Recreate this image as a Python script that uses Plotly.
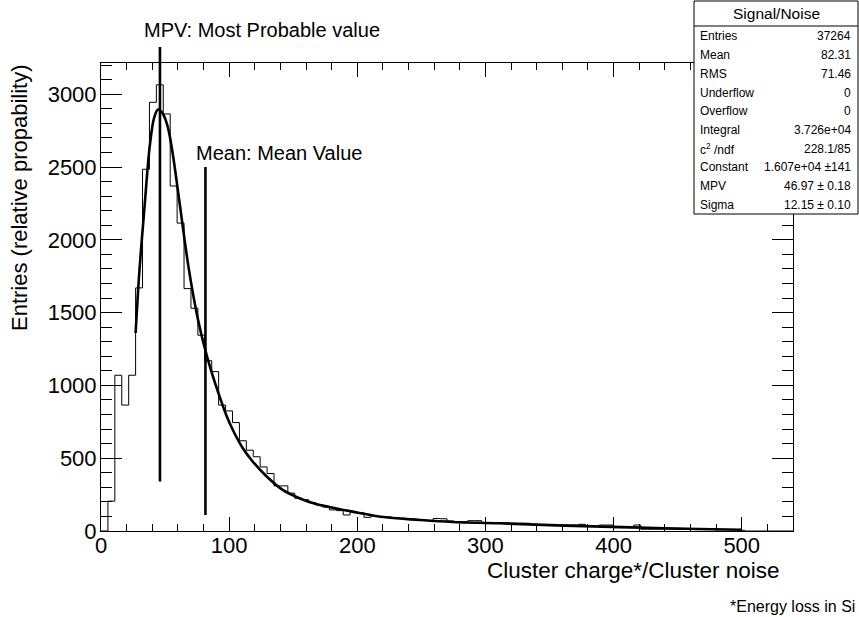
import plotly.graph_objects as go

# ---------------- data ----------------
BIN_WIDTH = 5.4
COUNTS = [0, 205, 1070, 865, 1070, 1670, 2485, 2945, 3065, 2865,
          2370, 2115, 1665, 1530, 1345, 1170, 1095, 865, 825, 745,
          620, 555, 510, 440, 395, 310, 310, 260, 225, 215,
          195, 180, 165, 145, 140, 110, 133, 125, 94, 105,
          100, 96, 92, 88, 84, 80, 76, 73, 86, 84,
          69, 64, 64, 71, 71, 57, 57, 57, 55, 53,
          53, 53, 46, 41, 41, 37, 37, 41, 41, 46,
          34, 34, 41, 41, 23, 23, 23, 41, 12, 12,
          12, 12, 12, 10, 10, 10, 10, 10, 10, 9,
          9, 9, 5, 0, 0, 0, 0, 0, 0, 0]

FIT_X = [27, 30, 34, 38, 41.5, 44.5, 48, 52, 56, 60, 64, 68, 72, 76, 80, 85,
         92.5, 97.7, 102.9, 110.7, 118.5, 128.9, 141.8, 154.8, 167.8, 178.2,
         196.3, 222.3, 248.3, 274.2, 310.6, 362.5, 414.4, 466.4, 500]
FIT_Y = [1360, 1790, 2230, 2640, 2840, 2895, 2870, 2780, 2590, 2340, 2080,
         1830, 1620, 1440, 1290, 1130, 925, 797, 694, 568, 476, 378, 282, 225,
         185, 165, 133, 94, 76, 62, 53, 37, 25, 14, 9]

MPV_LINE_X = 46.0
MPV_LINE_BOTTOM = 340
MEAN_LINE_X = 81.5
MEAN_LINE_Y = [110, 2500]

X_RANGE = [0, 540]
Y_RANGE = [0, 3215]

STATS_TITLE = "Signal/Noise"
STATS_LABELS = ["Entries", "Mean", "RMS", "Underflow", "Overflow", "Integral",
                "c<sup>2</sup> /ndf", "Constant", "MPV", "Sigma"]
STATS_VALUES = ["37264", "82.31", "71.46", "0", "0", "3.726e+04",
                "228.1/85", "1.607e+04 \u00b1141", "46.97 \u00b1 0.18", "12.15 \u00b1 0.10"]

FONT = "Liberation Sans, Arial, Helvetica, sans-serif"

FIG_W, FIG_H = 859, 617
PLOT_L, PLOT_R, PLOT_T, PLOT_B = 101, 793, 63, 531   # page pixels of plot area

# ---------------- figure ----------------
edges = [i * BIN_WIDTH for i in range(len(COUNTS) + 1)]
hist_y = COUNTS + [COUNTS[-1]]

fig = go.Figure()
fig.add_trace(go.Scatter(x=edges, y=hist_y, mode="lines", line_shape="hv",
                         line=dict(color="black", width=1), hoverinfo="skip",
                         showlegend=False))
fig.add_trace(go.Scatter(x=FIT_X, y=FIT_Y, mode="lines", line_shape="spline",
                         line=dict(color="black", width=2.6, smoothing=1.0),
                         hoverinfo="skip", showlegend=False))

W = float(PLOT_R - PLOT_L)
H = float(PLOT_B - PLOT_T)
def px(xp):
    return (xp - PLOT_L) / W
def py(yp):
    return (PLOT_B - yp) / H

# vertical marker lines
fig.add_shape(type="line", xref="x", yref="paper",
              x0=MPV_LINE_X, x1=MPV_LINE_X,
              y0=MPV_LINE_BOTTOM / Y_RANGE[1], y1=py(47),
              line=dict(color="black", width=2.6), layer="above")
fig.add_shape(type="line", xref="x", yref="y",
              x0=MEAN_LINE_X, x1=MEAN_LINE_X,
              y0=MEAN_LINE_Y[0], y1=MEAN_LINE_Y[1],
              line=dict(color="black", width=2.6), layer="above")

fig.add_annotation(text="MPV: Most Probable value", xref="x", yref="paper",
                   x=31.8, y=py(30), xanchor="left", yanchor="middle",
                   showarrow=False, font=dict(family=FONT, size=20, color="black"))
fig.add_annotation(text="Mean: Mean Value", xref="x", yref="y",
                   x=72.4, y=2600, xanchor="left", yanchor="middle",
                   showarrow=False, font=dict(family=FONT, size=20, color="black"))

# axis titles (ROOT style, right/top aligned)
fig.add_annotation(text="Cluster charge*/Cluster noise", xref="paper", yref="paper",
                   x=px(782), y=py(570), xanchor="right", yanchor="middle",
                   showarrow=False, font=dict(family=FONT, size=22.5, color="black"))
fig.add_annotation(text="Entries (relative propability)", xref="paper", yref="paper",
                   x=px(19), y=py(198), xanchor="center", yanchor="middle", textangle=-90,
                   showarrow=False, font=dict(family=FONT, size=22, color="black"))
fig.add_annotation(text="*Energy loss in Si", xref="paper", yref="paper",
                   x=px(857), y=py(606), xanchor="right", yanchor="middle",
                   showarrow=False, font=dict(family=FONT, size=16, color="black"))

# stats box
fig.add_shape(type="rect", xref="paper", yref="paper",
              x0=px(694), x1=px(858), y0=py(214), y1=py(1),
              fillcolor="white", line=dict(color="black", width=1), layer="above")
fig.add_shape(type="line", xref="paper", yref="paper",
              x0=px(694), x1=px(858), y0=py(26), y1=py(26),
              line=dict(color="black", width=1), layer="above")
fig.add_annotation(text=STATS_TITLE, xref="paper", yref="paper",
                   x=px(776), y=py(14), xanchor="center", yanchor="middle",
                   showarrow=False, font=dict(family=FONT, size=15.5, color="black"))
for k, (lab, val) in enumerate(zip(STATS_LABELS, STATS_VALUES)):
    yy = py(36.5 + 18.7 * k)
    fig.add_annotation(text=lab, xref="paper", yref="paper", x=px(698), y=yy,
                       xanchor="left", yanchor="middle", showarrow=False,
                       font=dict(family=FONT, size=12, color="black"))
    fig.add_annotation(text=val, xref="paper", yref="paper", x=px(853), y=yy,
                       xanchor="right", yanchor="middle", showarrow=False,
                       font=dict(family=FONT, size=12, color="black"))

axis_common = dict(showgrid=False, zeroline=False, showline=True, linecolor="black",
                   linewidth=1, ticks="inside", mirror="ticks", tickcolor="black",
                   tickwidth=1, tickfont=dict(family=FONT, size=22, color="black"))

fig.update_xaxes(range=X_RANGE, tick0=0, dtick=100, ticklen=14, ticklabelstandoff=-5,
                 minor=dict(dtick=20, ticklen=7, ticks="inside", tickcolor="black",
                            showgrid=False),
                 **axis_common)
fig.update_yaxes(range=Y_RANGE, tick0=0, dtick=500, ticklen=21, ticklabelstandoff=-1,
                 minor=dict(dtick=100, ticklen=11, ticks="inside", tickcolor="black",
                            showgrid=False),
                 **axis_common)

fig.update_layout(width=FIG_W, height=FIG_H,
                  margin=dict(l=PLOT_L, r=FIG_W - PLOT_R, t=PLOT_T, b=FIG_H - PLOT_B),
                  paper_bgcolor="white", plot_bgcolor="white",
                  showlegend=False, hovermode=False)

# remove the default page margin so the 859x617 figure fills the window exactly
POST = ("document.body.style.margin='0';"
        "document.body.style.overflow='hidden';"
        "document.documentElement.style.overflow='hidden';")
fig.write_html("out.html", post_script=POST,
               config={"displayModeBar": False, "staticPlot": True})
